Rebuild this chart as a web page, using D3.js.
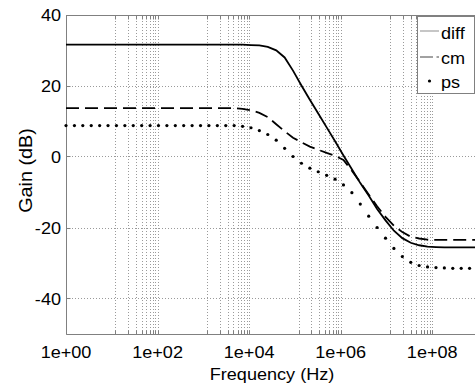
<!DOCTYPE html>
<html>
<head>
<meta charset="utf-8">
<script src="https://cdn.jsdelivr.net/npm/d3@7"></script>
<style>
  body { margin: 0; background: #fff; }
  svg { display: block; }
  text { font-family: "Liberation Sans", Arial, Helvetica, sans-serif; fill: #000; }
</style>
</head>
<body>
<svg id="chart" width="475" height="392"></svg>
<script>
// Sample frequencies, as log10(Hz): 50 points from 1 Hz to 1 GHz
const logFreq = [
  0.000, 0.184, 0.367, 0.551, 0.735, 0.918, 1.102, 1.286, 1.469, 1.653,
  1.837, 2.020, 2.204, 2.388, 2.571, 2.755, 2.939, 3.122, 3.306, 3.490,
  3.673, 3.857, 4.041, 4.224, 4.408, 4.592, 4.776, 4.959, 5.143, 5.327,
  5.510, 5.694, 5.878, 6.061, 6.245, 6.429, 6.612, 6.796, 6.980, 7.163,
  7.347, 7.531, 7.714, 7.898, 8.082, 8.265, 8.449, 8.633, 8.816, 9.000
];

// Gain in dB at each sample frequency
const diffGain = [
  31.5, 31.5, 31.5, 31.5, 31.5, 31.5, 31.5, 31.5, 31.5, 31.5,
  31.5, 31.5, 31.5, 31.5, 31.5, 31.5, 31.5, 31.5, 31.5, 31.5,
  31.5, 31.5, 31.4, 31.3, 30.9, 29.9, 27.9, 24.2, 20.0, 16.0,
  12.1, 8.2, 4.3, 0.3, -3.6, -7.5, -11.0, -14.8, -18.0, -20.9,
  -23.0, -24.3, -25.0, -25.4, -25.5, -25.6, -25.6, -25.6, -25.6, -25.6
];
const cmGain = [
  13.6, 13.6, 13.6, 13.6, 13.6, 13.6, 13.6, 13.6, 13.6, 13.6,
  13.6, 13.6, 13.6, 13.6, 13.6, 13.6, 13.6, 13.6, 13.6, 13.6,
  13.6, 13.4, 13.0, 12.3, 11.1, 9.1, 7.1, 5.3, 4.0, 2.8,
  1.9, 1.0, 0.2, -1.0, -4.0, -7.3, -10.7, -14.0, -17.0, -19.5,
  -21.3, -22.6, -23.1, -23.4, -23.5, -23.5, -23.5, -23.5, -23.5, -23.5
];
const psGain = [
  8.7, 8.7, 8.7, 8.7, 8.7, 8.7, 8.7, 8.7, 8.7, 8.7,
  8.7, 8.7, 8.7, 8.7, 8.7, 8.7, 8.7, 8.7, 8.7, 8.7,
  8.7, 8.5, 8.1, 7.3, 6.2, 4.6, 2.3, 0.0, -1.9, -3.3,
  -4.3, -5.3, -6.4, -8.0, -10.2, -13.4, -16.8, -20.0, -23.0, -25.9,
  -28.2, -29.8, -30.7, -31.1, -31.3, -31.4, -31.5, -31.5, -31.5, -31.5
];

// Axes ticks and labels
const xTickValues = [1, 1e2, 1e4, 1e6, 1e8];
const xTickLabels = ["1e+00", "1e+02", "1e+04", "1e+06", "1e+08"];
const xMinorMultipliers = [12, 23, 34, 45, 56, 67, 78, 89]; // per 2-decade step
const yTickValues = [-40, -20, 0, 20, 40];
const yTickLabels = ["-40", "-20", "0", "20", "40"];
const legendNames = ["diff", "cm", "ps"];

const svg = d3.select("#chart");
const frameColor = "#808080";
const gridColor = "#9a9a9a";
const stretch = 1.13;

const x = d3.scaleLog().domain([1, 1e9]).range([66, 478]);
const y = d3.scaleLinear().domain([-50, 40]).range([334, 14.5]);
const crisp = v => Math.round(v) + 0.5;

// horizontally widened label, like the plotting toolkit's font
function label(g, px, py, str, anchor, rotate, size) {
  return g.append("text")
    .attr("transform", `translate(${px},${py})` + (rotate ? ` rotate(${rotate})` : "") + ` scale(${stretch},1)`)
    .attr("text-anchor", anchor)
    .attr("font-size", size || 16)
    .text(str);
}

// minor x positions: 12, 23, ... 89 times each major tick
const xMinor = [];
xTickValues.forEach(b => xMinorMultipliers.forEach(m => {
  const v = b * m;
  if (v < 1e9) xMinor.push(v);
}));
const xGrid = xTickValues.concat(xMinor);

const grid = svg.append("g").attr("stroke", gridColor).attr("stroke-width", 1)
  .attr("stroke-dasharray", "1,2").attr("fill", "none");
grid.selectAll("line.vx").data(xGrid).join("line").attr("class", "vx")
  .attr("x1", d => crisp(x(d))).attr("x2", d => crisp(x(d)))
  .attr("y1", y(-50)).attr("y2", y(40));
grid.selectAll("line.hy").data(yTickValues).join("line").attr("class", "hy")
  .attr("x1", x(1)).attr("x2", x(1e9))
  .attr("y1", d => crisp(y(d))).attr("y2", d => crisp(y(d)));

// frame and tick marks
const frame = svg.append("g").attr("stroke", frameColor).attr("stroke-width", 1).attr("fill", "none");
const xl = crisp(x(1)), yb = crisp(y(-50)), yt = crisp(y(40));
frame.append("line").attr("x1", xl).attr("x2", xl).attr("y1", yt).attr("y2", yb);
frame.append("line").attr("x1", xl).attr("x2", 480).attr("y1", yb).attr("y2", yb);
frame.append("line").attr("x1", xl).attr("x2", 480).attr("y1", yt).attr("y2", yt);
frame.selectAll("line.tb").data(xGrid).join("line").attr("class", "tb")
  .attr("x1", d => crisp(x(d))).attr("x2", d => crisp(x(d)))
  .attr("y1", yb).attr("y2", yb - 4);
frame.selectAll("line.tt").data(xGrid).join("line").attr("class", "tt")
  .attr("x1", d => crisp(x(d))).attr("x2", d => crisp(x(d)))
  .attr("y1", yt).attr("y2", yt + 4);
frame.selectAll("line.tl").data(yTickValues).join("line").attr("class", "tl")
  .attr("x1", xl).attr("x2", xl + 4)
  .attr("y1", d => crisp(y(d))).attr("y2", d => crisp(y(d)));

// tick labels
const labels = svg.append("g");
xTickValues.forEach((v, i) => label(labels, x(v), 358, xTickLabels[i], "middle"));
yTickValues.forEach((v, i) => label(labels, 61, y(v) + 6.5, yTickLabels[i], "end"));
label(labels, x(Math.sqrt(1e9)), 380, "Frequency (Hz)", "middle");
label(labels, 32, 170.5, "Gain (dB)", "middle", -90, 17.5);

// curves
const pts = vals => vals.map((v, i) => [x(Math.pow(10, logFreq[i])), y(v)]);
const line = d3.line();
const plot = svg.append("g");
plot.append("path").attr("d", line(pts(diffGain)))
  .attr("fill", "none").attr("stroke", "#000").attr("stroke-width", 1.8);
plot.append("path").attr("d", line(pts(cmGain)))
  .attr("fill", "none").attr("stroke", "#000").attr("stroke-width", 1.8)
  .attr("stroke-dasharray", "13,6");
plot.selectAll("circle").data(pts(psGain)).join("circle")
  .attr("cx", d => d[0]).attr("cy", d => d[1]).attr("r", 1.6).attr("fill", "#000");

// legend
const lg = svg.append("g");
lg.append("rect").attr("x", 417.5).attr("y", 16.5).attr("width", 57).attr("height", 77)
  .attr("fill", "#fff").attr("stroke", frameColor).attr("stroke-width", 1);
lg.append("line").attr("x1", 420).attr("x2", 439).attr("y1", 31).attr("y2", 31)
  .attr("stroke", "#a0a0a0").attr("stroke-width", 1.2);
lg.append("line").attr("x1", 420).attr("x2", 439).attr("y1", 57).attr("y2", 57)
  .attr("stroke", "#444").attr("stroke-width", 1).attr("stroke-dasharray", "13,3.5");
lg.append("circle").attr("cx", 429.5).attr("cy", 81).attr("r", 1.6).attr("fill", "#000");
[38.5, 63.5, 87.5].forEach((by, i) => label(lg, 441, by, legendNames[i], "start"));
</script>
</body>
</html>
